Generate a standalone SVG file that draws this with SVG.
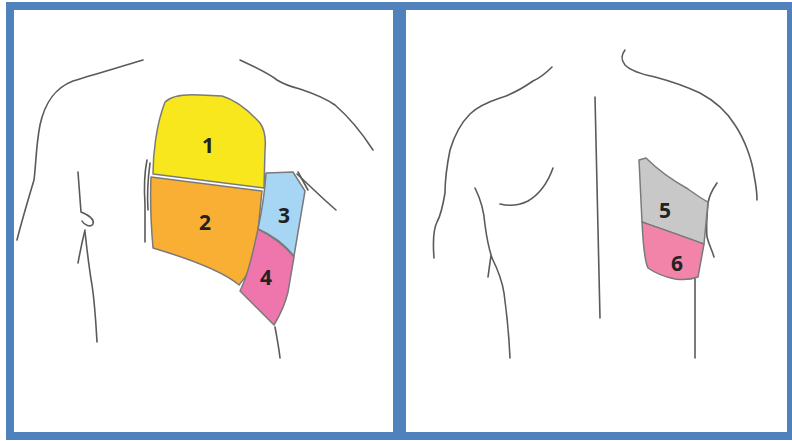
<svg xmlns="http://www.w3.org/2000/svg" width="792" height="441" viewBox="0 0 792 441">
  <style>
    .body { fill: none; stroke: #5a5a5a; stroke-width: 1.6; stroke-linecap: round; stroke-linejoin: round; }
    .zone { stroke: #7a7a7a; stroke-width: 1.5; stroke-linejoin: round; }
    .num { font-family: "Open Sans", "Liberation Sans", sans-serif; font-size: 21px; font-weight: 700; fill: #222; text-anchor: middle; dominant-baseline: central; }
    .frame { fill: none; stroke: #4f81bd; }
  </style>

  <rect x="0" y="0" width="792" height="441" fill="#ffffff"/>

  <!-- panel frames -->
  <g id="frame">
    <rect class="frame" x="10" y="6" width="781" height="430" stroke-width="8"/>
    <line class="frame" x1="399.5" y1="2" x2="399.5" y2="440" stroke-width="13"/>
  </g>

  <!-- front view outline -->
  <g id="front-body">
    <path class="body" d="M143,60 C120,67 95,74 73,81 C55,88 45,102 40,125 C36,145 36,165 34,180 C28,200 22,220 17,240"/>
    <path class="body" d="M78,172 C79,185 80,200 81,212 C86,214 95,218 93,224 C91,228 84,225 82,221"/>
    <path class="body" d="M85,230 C82,242 80,252 78,263"/>
    <path class="body" d="M85,232 C87,250 89,268 92,285 C95,305 96,325 97,342"/>
    <path class="body" d="M240,60 C255,67 268,73 277,80 C285,85 292,87 300,89 C315,94 325,98 335,105 C350,118 362,133 373,150"/>
    <path class="body" d="M297,174 C310,186 322,198 336,210"/>
    <path class="body" d="M298,172 L308,190"/>
    <path class="body" d="M275,327 C277,338 279,348 280,358"/>
    <path class="body" d="M147,160 C144,175 144,190 145,205 C145,220 145,232 145,242" stroke="#9a9a9a"/>
    <path class="body" d="M150,163 C148,178 147,195 148,210" stroke="#b0b0b0" stroke-width="1"/>
  </g>

  <!-- front zones -->
  <g id="zone-1">
    <path class="zone" fill="#f8e71c" d="M165,102 C172,95 185,94 200,95 L222,96 C236,100 250,112 260,123 C265,130 266,140 265,150 L264,188 L153,174 C153,155 156,125 165,102 Z"/>
    <text class="num" x="208" y="145">1</text>
  </g>
  <g id="zone-2">
    <path class="zone" fill="#f9ae34" d="M151,177 L262,191 C260,210 258,230 256,250 C254,262 248,275 239,285 C225,273 200,262 153,248 C151,225 150,200 151,177 Z"/>
    <text class="num" x="205" y="222">2</text>
  </g>
  <g id="zone-3">
    <path class="zone" fill="#a6d6f4" d="M266,173 L293,172 L305,191 L294,256 C285,245 272,235 258,229 C262,210 265,190 266,173 Z"/>
    <text class="num" x="284" y="215">3</text>
  </g>
  <g id="zone-4">
    <path class="zone" fill="#ee76ac" d="M258,229 C272,236 285,246 294,257 L288,292 C285,305 280,315 274,325 L240,291 C248,275 253,252 258,229 Z"/>
    <text class="num" x="266" y="277">4</text>
  </g>

  <!-- back view outline -->
  <g id="back-body">
    <path class="body" d="M552,67 C545,74 540,78 533,81 C520,90 510,95 500,98 C488,102 478,106 470,114 C460,124 453,140 450,150 C447,165 445,180 445,193 C443,205 441,215 437,222 C433,230 433,245 434,258"/>
    <path class="body" d="M475,188 C480,198 484,210 485,225 C487,240 490,252 492,258"/>
    <path class="body" d="M491,256 C490,262 489,270 488,277"/>
    <path class="body" d="M492,258 C498,270 502,280 504,293 C507,315 509,335 510,358"/>
    <path class="body" d="M553,168 C548,182 540,194 528,201 C518,206 508,206 500,204"/>
    <path class="body" d="M595,97 C597,170 598,245 600,318"/>
    <path class="body" d="M625,50 C621,55 621,60 625,65 C630,70 640,74 655,77 C670,81 685,86 700,93 C715,101 727,112 735,125 C745,140 752,160 754,175 C756,185 757,193 757,200"/>
    <path class="body" d="M717,183 C712,190 709,197 708,203 C707,215 706,228 707,237 C709,245 712,250 714,257"/>
    <path class="body" d="M695,277 C695,305 695,330 695,358"/>
  </g>

  <!-- back zones -->
  <g id="zone-5">
    <path class="zone" fill="#c8c8c8" d="M639,160 L646,158 C658,170 672,180 688,189 C695,194 702,199 708,202 L704,244 C685,237 662,229 642,222 Z"/>
    <text class="num" x="665" y="210">5</text>
  </g>
  <g id="zone-6">
    <path class="zone" fill="#f184a8" d="M642,222 C662,229 685,237 704,244 L698,277 C690,280 683,280 675,279 C665,277 655,273 648,268 C645,262 643,243 642,222 Z"/>
    <text class="num" x="677" y="263">6</text>
  </g>
</svg>
